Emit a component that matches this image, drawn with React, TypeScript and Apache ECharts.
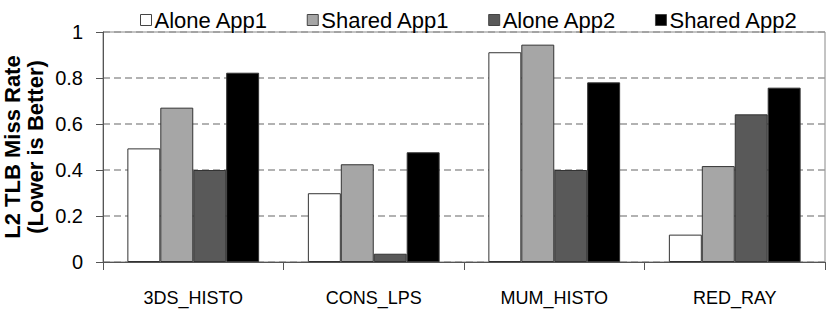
import React, { useEffect, useRef } from "react";
import * as echarts from "echarts";

const categories = ["3DS_HISTO", "CONS_LPS", "MUM_HISTO", "RED_RAY"];
const seriesNames = ["Alone App1", "Shared App1", "Alone App2", "Shared App2"];
const aloneApp1 = [0.494, 0.299, 0.912, 0.119];
const sharedApp1 = [0.671, 0.425, 0.945, 0.417];
const aloneApp2 = [0.4, 0.036, 0.4, 0.642];
const sharedApp2 = [0.823, 0.477, 0.781, 0.758];
const colors = ["#ffffff", "#a6a6a6", "#595959", "#000000"];

export default function App() {
  const ref = useRef<HTMLDivElement>(null);
  useEffect(() => {
    if (!ref.current) return;
    const chart = echarts.init(ref.current, undefined, { renderer: "svg" });
    const values = [aloneApp1, sharedApp1, aloneApp2, sharedApp2];
    const font = "'Liberation Sans', Arial, sans-serif";
    chart.setOption({
      animation: false,
      textStyle: { fontFamily: font },
      legend: {
        top: 4,
        left: 135,
        itemWidth: 11,
        itemHeight: 11,
        itemGap: 38.5,
        icon: "rect",
        itemStyle: { borderColor: "#444", borderWidth: 1 },
        textStyle: { fontSize: 22, color: "#000", fontFamily: font, padding: [0, 0, 0, -2] },
        data: seriesNames,
      },
      grid: {
        left: 103,
        right: 6,
        top: 32,
        bottom: 48,
        outerBoundsMode: "none",
        containLabel: false,
        show: true,
        borderColor: "#888",
        borderWidth: 1,
      },
      xAxis: {
        type: "category",
        data: categories,
        axisLine: { lineStyle: { color: "#555", width: 1 } },
        axisTick: { show: true, length: 8, lineStyle: { color: "#555" }, alignWithLabel: false },
        axisLabel: { fontSize: 18, color: "#000", margin: 27, fontFamily: font },
      },
      yAxis: {
        type: "value",
        min: 0,
        max: 1,
        interval: 0.2,
        name: "L2 TLB Miss Rate\n(Lower is Better)",
        nameLocation: "middle",
        nameGap: 56,
        nameMoveOverlap: false,
        nameTextStyle: { fontSize: 22, fontWeight: "bold", color: "#000", lineHeight: 23, fontFamily: font },
        axisLine: { show: true, lineStyle: { color: "#555", width: 1 } },
        axisTick: { show: true, length: 7, lineStyle: { color: "#555" } },
        axisLabel: {
          fontSize: 20,
          color: "#000",
          margin: 20,
          fontFamily: font,
          formatter: (v: number) => (v === 0 ? "0" : v === 1 ? "1" : String(Number(v.toFixed(1)))),
        },
        splitLine: { show: true, lineStyle: { color: "#999", type: [7, 4], width: 1.5 } },
      },
      series: values.map((d, i) => ({
        name: seriesNames[i],
        type: "bar",
        data: d,
        barGap: "0%",
        barCategoryGap: "27%",
        itemStyle: { color: colors[i], borderColor: "#333", borderWidth: 1 },
      })),
    });
    return () => chart.dispose();
  }, []);
  return (
    <div
      ref={ref}
      style={{ position: "fixed", left: 0, top: 0, width: 831, height: 310, background: "#fff" }}
    />
  );
}
